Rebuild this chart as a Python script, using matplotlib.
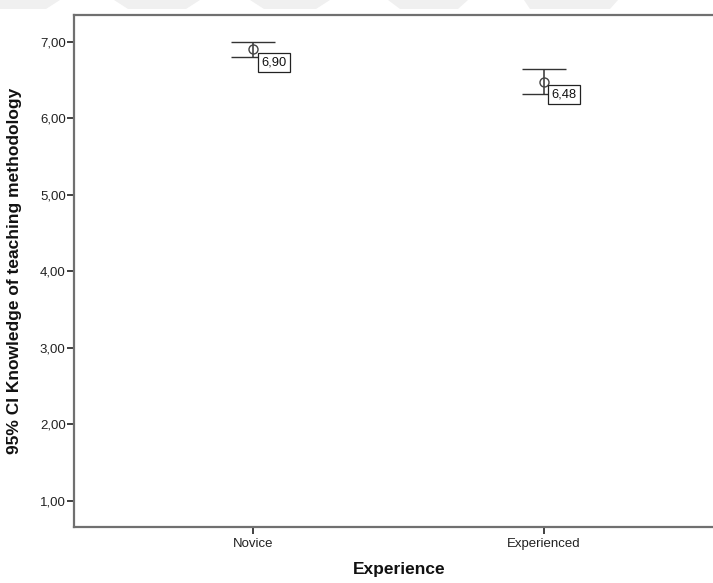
import matplotlib
matplotlib.use("Agg")
import matplotlib.pyplot as plt
from matplotlib.patches import Polygon

plt.rcParams['font.family'] = ['Liberation Sans', 'DejaVu Sans']

groups = ['Novice', 'Experienced']
means = [6.90, 6.48]
ci_low = [6.80, 6.32]
ci_high = [7.00, 6.65]
y_ticks = [1, 2, 3, 4, 5, 6, 7]


def comma(v):
    return '{:.2f}'.format(v).replace('.', ',')


W, H = 713, 583
fig = plt.figure(figsize=(W / 100, H / 100), dpi=100)
fig.patch.set_facecolor('white')

# faint banner shapes along the top edge
banner = [
    [(0, 0), (60, 0), (46, 9), (0, 9)],
    [(114, 0), (200, 0), (186, 9), (128, 9)],
    [(250, 0), (330, 0), (316, 9), (264, 9)],
    [(388, 0), (468, 0), (458, 9), (400, 9)],
    [(524, 0), (618, 0), (610, 9), (530, 9)],
]
for pts in banner:
    fig.add_artist(Polygon([(x / W, 1 - y / H) for x, y in pts], closed=True,
                           transform=fig.transFigure, facecolor='#f0f0f0',
                           edgecolor='none', zorder=0))

left, top, bottom = 74, 15, 527
ax = fig.add_axes([left / W, 1 - bottom / H, 1.0 - left / W + 0.002, (bottom - top) / H])

x = list(range(len(groups)))
yerr = [[m - lo for m, lo in zip(means, ci_low)],
        [hi - m for m, hi in zip(means, ci_high)]]
ax.errorbar(x, means, yerr=yerr, fmt='o', mfc='none', mec='#444444', ms=6.5, mew=1.0,
            ecolor='#333333', elinewidth=1.1, capsize=15.8, capthick=1.1, zorder=3)

for xi, m in zip(x, means):
    ax.annotate(comma(m), xy=(xi, m), xytext=(5.6, -5.2), textcoords='offset points',
                ha='left', va='top', fontsize=9.3, color='#111111', zorder=5,
                bbox=dict(boxstyle='square,pad=0.27', fc='white', ec='#222222', lw=0.9))

ax.set_xlim(-0.617, 1.586)
ax.set_ylim(0.66, 7.35)
ax.set_xticks(x)
ax.set_xticklabels(groups)
ax.set_yticks(y_ticks)
ax.set_yticklabels([comma(v) for v in y_ticks])

ax.spines['right'].set_visible(False)
for s in ['left', 'top', 'bottom']:
    ax.spines[s].set_color('#707070')
    ax.spines[s].set_linewidth(1.6)

ax.tick_params(axis='y', direction='out', length=5, width=1.3, color='#333333',
               labelsize=9.5, labelcolor='#222222', pad=1)
ax.tick_params(axis='x', direction='out', length=5, width=1.3, color='#333333',
               labelsize=9.5, labelcolor='#222222', pad=3)

ax.set_ylabel('95% CI Knowledge of teaching methodology', fontsize=12.5,
              fontweight='bold', color='#111111')
ax.yaxis.set_label_coords(-0.081, 0.5)
ax.set_xlabel('Experience', fontsize=12.5, fontweight='bold', color='#111111')
ax.xaxis.set_label_coords(0.507, -0.068)

fig.savefig('out.png', dpi=100, facecolor='white')
